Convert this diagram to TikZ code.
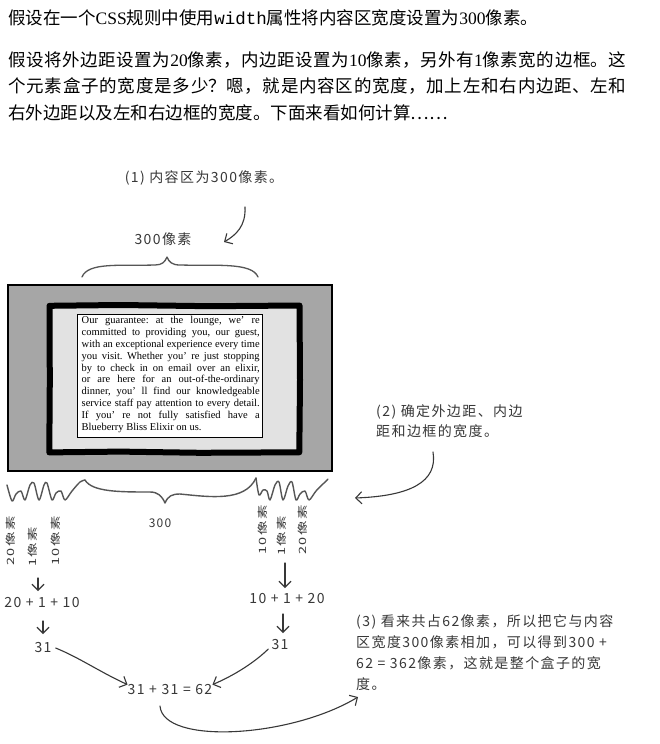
\documentclass[tikz,border=0pt]{standalone}
\usepackage{fontspec}
\usepackage{graphicx}
\usetikzlibrary{arrows.meta}
\setmainfont{Liberation Serif}
\setmonofont{Liberation Mono}
\newfontfamily\cjk{Noto Sans CJK SC}
\newfontfamily\hand[LetterSpace=10]{Noto Sans CJK SC}
\XeTeXlinebreaklocale "zh"
\XeTeXlinebreakskip=0pt plus 3pt
\definecolor{handgray}{HTML}{383838}
\definecolor{margingray}{HTML}{A6A6A6}
\definecolor{padgray}{HTML}{E2E2E2}
\tikzset{
  hand/.style={text=handgray, inner sep=0pt, font=\hand\fontsize{14}{20}\selectfont},
  handsmall/.style={hand, font=\hand\fontsize{10}{12}\selectfont},
  harrow/.style={draw=handgray, line width=1.1pt, line cap=round,
    -{Straight Barb[length=6pt,width=12pt,line width=1.1pt]}},
  squiggle/.style={draw=handgray!85, line width=1.4pt, line cap=round, line join=round},
}
\begin{document}
\begin{tikzpicture}[x=1pt,y=-1pt]
\useasboundingbox (0,0) rectangle (660,744);
\fill[white] (0,0) rectangle (660,744);

% ---- printed introduction ----
\node[anchor=base west, inner sep=0pt, font=\cjk\fontsize{17.5}{20}\selectfont] (intro) at (8,24)
  {假设在一个{\rmfamily CSS}规则中使用{\ttfamily width}属性将内容区宽度设置为{\rmfamily 300}像素。};
\node[anchor=north west, inner sep=0pt, text width=618pt, align=justify,
      font=\cjk\fontsize{17.5}{26.5}\selectfont] (para) at (8,51)
  {假设将外边距设置为{\rmfamily 20}像素，内边距设置为{\rmfamily 10}像素，另外有{\rmfamily 1}像素宽的边框。这\linebreak
   个元素盒子的宽度是多少？嗯，就是内容区的宽度，加上左和右内边距、左和\linebreak
   右外边距以及左和右边框的宽度。下面来看如何计算……};

% ---- step 1 ----
\node[hand, anchor=center] (step1) at (204,178) {(1) 内容区为300像素。};
\coordinate (s1a) at (245,207);
\coordinate (s1b) at (224,242);
\draw[harrow] (s1a) .. controls (246,226) and (236,235) .. (s1b);
\node[hand, anchor=center] (w300) at (163,239) {300像素};
\draw[squiggle, line width=1.3pt] (82,277) .. controls (88,262) and (120,266) .. (155,265)
  .. controls (162,265) and (165,262) .. (167,257)
  .. controls (169,262) and (172,265) .. (180,265)
  .. controls (215,266) and (252,262) .. (258,277);

% ---- the element box ----
\path[fill=margingray, draw=black, line width=1.6pt] (8,285) rectangle (332,471);
\fill[padgray] (50,306) rectangle (299,452);
\draw[black, line width=6pt, line join=round]
  (49.5,305.8) -- (120,305) -- (210,306.2) -- (299.5,305.5) -- (300,380) -- (299.3,452.3)
  -- (200,452.8) -- (120,451.6) -- (49.3,452.4) -- (49.8,380) -- cycle;
\node[draw=black, line width=1pt, fill=white, minimum width=185pt, minimum height=123pt,
      inner sep=0pt, anchor=north west] (content) at (77,314) {};
\node[anchor=north west, inner sep=0pt, align=left,
      font=\rmfamily\frenchspacing\fontsize{10.5}{11.9}\selectfont] (ctext) at (81.5,316)
  {\makebox[178pt][s]{Our guarantee: at the lounge, we’ re}\\
   \makebox[178pt][s]{committed to providing you, our guest,}\\
   \makebox[178pt][s]{with an exceptional experience every time}\\
   \makebox[178pt][s]{you visit. Whether you’ re just stopping}\\
   \makebox[178pt][s]{by to check in on email over an elixir,}\\
   \makebox[178pt][s]{or are here for an out-of-the-ordinary}\\
   \makebox[178pt][s]{dinner, you’ ll find our knowledgeable}\\
   \makebox[178pt][s]{service staff pay attention to every detail.}\\
   \makebox[178pt][s]{If you’ re not fully satisfied have a}\\
   Blueberry Bliss Elixir on us.};

% ---- step 2 ----
\node[hand, anchor=north west, align=left] (step2) at (376,404)
  {(2) 确定外边距、内边\\距和边框的宽度。};
\coordinate (s2a) at (433,452);
\coordinate (s2b) at (355,498);
\draw[harrow] (s2a) .. controls (438,482) and (410,496) .. (s2b);

% squiggles marking margin, border and padding
\draw[squiggle] plot[smooth, tension=0.5] coordinates {
  (7,485) (12,501) (16,494) (21,491) (25,500) (30,485) (34,483)
  (39,500) (44,485) (47,483) (52,500) (56,493) (61,491) (65,500)
  (72,491) (80,482) (85,480)};
\draw[squiggle] (85,480) .. controls (92,492) and (120,492) .. (150,492)
  .. controls (158,492) and (162,496) .. (165,503)
  .. controls (168,496) and (172,494) .. (180,494)
  .. controls (210,497) and (245,502) .. (256,478);
\draw[squiggle] plot[smooth, tension=0.5] coordinates {
  (256,478) (259,495) (263,490) (267,491) (270,500) (275,485) (279,482)
  (283,500) (288,486) (292,482) (296,500) (300,494) (305,491) (309,500)
  (316,491) (324,483) (328,479)};
\node[hand, font=\hand\fontsize{12}{14}\selectfont] (w300b) at (160,523) {300};

% ---- left column ----
\node[handsmall, rotate=90, anchor=west] (lm) at (11,566) {\scalebox{1.45}[1]{20像素}};
\node[handsmall, rotate=90, anchor=west] (lb) at (33,567) {\scalebox{1.45}[1]{1像素}};
\node[handsmall, rotate=90, anchor=west] (lp) at (56,566) {\scalebox{1.45}[1]{10像素}};
\node[hand] (lsum) at (42,603) {20 + 1 + 10};
\node[hand] (l31) at (43,647) {31};
\coordinate (la1) at (38,578);
\coordinate (la2) at (38,591);
\draw[harrow] (la1) -- (la2);
\coordinate (lb1) at (43,621);
\coordinate (lb2) at (43,634);
\draw[harrow] (lb1) -- (lb2);

% ---- right column ----
\node[handsmall, rotate=90, anchor=west] (rp) at (263,555) {\scalebox{1.45}[1]{10像素}};
\node[handsmall, rotate=90, anchor=west] (rb) at (282,556) {\scalebox{1.45}[1]{1像素}};
\node[handsmall, rotate=90, anchor=west] (rm) at (303,555) {\scalebox{1.45}[1]{20像素}};
\node[hand] (rsum) at (287,599) {10 + 1 + 20};
\node[hand] (r31) at (280,645) {31};
\coordinate (ra1) at (285,563);
\coordinate (ra2) at (285,588);
\draw[harrow] (ra1) -- (ra2);
\coordinate (rb1) at (283,614);
\coordinate (rb2) at (283,633);
\draw[harrow] (rb1) -- (rb2);

% ---- total ----
\node[hand] (total) at (170,690) {31 + 31 = 62};
\draw[harrow] (l31.east) ++(4,1) .. controls (80,658) and (100,672) .. (total.north west);
\draw[harrow] (r31.west) ++(-3,4) .. controls (255,662) and (235,675) .. (total.north east);
\coordinate (ba) at (160,706);
\coordinate (bb) at (358,697);
\draw[harrow] (ba) .. controls (163,745) and (290,738) .. (bb);

% ---- step 3 ----
\node[hand, anchor=north west, align=left, font=\hand\fontsize{14}{21.3}\selectfont] (step3) at (356,614)
  {(3) 看来共占62像素，所以把它与内容\\
   区宽度300像素相加，可以得到300 +\\
   62 = 362像素，这就是整个盒子的宽\\
   度。};
\end{tikzpicture}
\end{document}
